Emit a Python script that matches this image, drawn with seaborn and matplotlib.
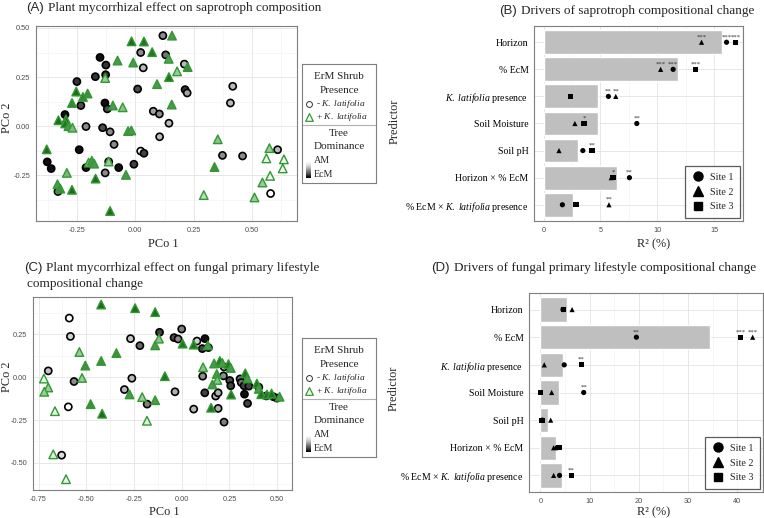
import numpy as np
import pandas as pd
import seaborn as sns
import matplotlib.pyplot as plt
from matplotlib.colors import LinearSegmentedColormap
from matplotlib.ticker import AutoMinorLocator
from matplotlib.lines import Line2D

# ---------------- data ----------------
# panel A: saprotroph PCoA, circles = without K. latifolia, triangles = with
# ecm = tree dominance shade, 0 = AM ... 1 = EcM
sap_no_pc1 = [0.118, 0.023, 0.13, 0.034, 0.21, -0.151, -0.126, -0.127, -0.171, -0.25,
              0.01, 0.213, 0.222, 0.417, 0.407, -0.13, -0.12, -0.233, 0.077, 0.103,
              -0.301, 0.144, -0.211, -0.14, -0.108, 0.104, -0.091, -0.24, 0.023, 0.037,
              -0.377, -0.36, -0.211, -0.114, -0.071, -0.006, -0.129, -0.331, 0.373, 0.459,
              0.609, 0.579]
sap_no_pc2 = [0.461, 0.375, 0.363, 0.297, 0.316, 0.35, 0.311, 0.262, 0.252, 0.227,
              0.189, 0.186, 0.169, 0.203, 0.118, 0.118, 0.088, 0.105, 0.076, 0.062,
              0.059, 0.015, -0.002, -0.008, -0.029, -0.054, -0.093, -0.12, -0.127, -0.138,
              -0.182, -0.216, -0.211, -0.181, -0.211, -0.194, -0.238, -0.333, -0.149, -0.152,
              -0.12, -0.343]
sap_no_ecm = [0.5, 0.5, 0.6, 0.3, 0.3, 1.0, 0.85, 0.85, 0.85, 0.85,
              0.75, 0.85, 0.4, 0.3, 0.3, 1.0, 0.75, 0.75, 0.4, 0.5,
              1.0, 0.3, 0.5, 0.75, 0.5, 0.3, 0.5, 1.0, 0.05, 0.8,
              1.0, 1.0, 1.0, 0.1, 1.0, 0.8, 0.5, 0.5, 0.5, 0.5,
              0.3, 0.0]
sap_yes_pc1 = [-0.016, 0.037, 0.157, 0.072, -0.076, -0.009, 0.143, 0.179, 0.224, -0.129,
               0.144, 0.093, -0.253, -0.204, -0.224, -0.271, 0.156, -0.096, -0.054, -0.329,
               -0.297, -0.30, -0.286, -0.269, -0.031, -0.017, 0.353, -0.379, -0.293, -0.2,
               -0.186, -0.176, -0.17, -0.04, -0.333, -0.321, -0.271, -0.108, -0.114, 0.339,
               0.293, 0.574, 0.561, 0.636, 0.631, 0.577, 0.544, 0.51]
sap_yes_pc2 = [0.432, 0.431, 0.461, 0.377, 0.334, 0.324, 0.343, 0.279, 0.301, 0.245,
               0.25, 0.214, 0.176, 0.166, 0.149, 0.118, 0.11, 0.105, 0.096, 0.03,
               0.034, 0.014, 0.0, -0.008, -0.025, -0.022, -0.067, -0.118, -0.238, -0.186,
               -0.176, -0.191, -0.267, -0.248, -0.296, -0.318, -0.324, -0.432, -0.18, -0.208,
               -0.351, -0.112, -0.164, -0.169, -0.215, -0.253, -0.287, -0.363]
sap_yes_ecm = [0.9, 0.85, 0.6, 0.85, 0.6, 0.6, 0.55, 0.3, 0.65, 0.3,
               0.85, 0.6, 0.9, 0.65, 0.7, 0.7, 0.6, 0.6, 0.35, 0.9,
               0.9, 0.85, 0.6, 0.4, 0.6, 0.6, 0.35, 0.9, 0.4, 0.35,
               0.6, 0.6, 0.9, 0.6, 0.6, 0.65, 0.9, 0.9, 0.3, 0.65,
               0.2, 0.3, 0.05, 0.05, 0.05, 0.05, 0.3, 0.3]

# panel C: primary lifestyle PCoA
life_no_pc1 = [-0.589, -0.583, -0.699, -0.564, -0.594, -0.629, -0.268, -0.219, -0.261, -0.30,
               -0.181, -0.116, 0.0, -0.04, -0.019, 0.08, 0.122, 0.108, 0.14, 0.11,
               0.222, 0.219, 0.252, 0.257, -0.035, 0.121, 0.178, 0.191, 0.063, 0.191,
               0.222, 0.306, 0.312, 0.327, 0.352, 0.329, 0.345, 0.404, 0.443, 0.499,
               0.481]
life_no_pc2 = [0.345, 0.238, 0.037, -0.025, -0.173, -0.455, 0.225, 0.184, -0.006, -0.072,
               -0.157, 0.262, 0.281, 0.231, 0.223, 0.211, 0.225, 0.167, 0.173, 0.006,
               0.06, 0.008, -0.019, -0.05, -0.085, -0.091, -0.11, -0.091, -0.186, -0.182,
               -0.262, -0.01, -0.031, -0.05, -0.052, -0.099, -0.153, -0.058, -0.109, -0.122,
               -0.114]
life_no_ecm = [0.0, 0.2, 0.25, 0.5, 0.0, 0.15, 0.25, 0.65, 0.3, 0.3,
               0.55, 0.8, 0.55, 0.75, 0.5, 0.2, 1.0, 0.8, 0.8, 0.5,
               0.3, 0.5, 0.75, 0.8, 0.35, 0.8, 0.35, 0.35, 0.3, 0.35,
               0.55, 0.6, 0.6, 0.8, 0.8, 1.0, 0.8, 0.6, 0.8, 1.0,
               0.8]
life_yes_pc1 = [-0.422, -0.244, -0.139, -0.536, -0.422, -0.342, -0.505, -0.522, -0.722, -0.699,
                -0.72, -0.664, -0.477, -0.417, -0.273, -0.207, -0.139, -0.182, -0.673, -0.606,
                -0.139, -0.119, 0.005, 0.063, 0.137, -0.088, 0.112, 0.17, 0.20, 0.213,
                0.245, 0.257, 0.184, 0.187, 0.161, 0.154, 0.259, 0.333, 0.345, 0.394,
                0.404, 0.417, 0.447, 0.471, 0.513]
life_yes_pc2 = [0.424, 0.403, 0.38, 0.147, 0.095, 0.141, 0.068, -0.004, -0.008, -0.06,
                -0.085, -0.198, -0.157, -0.213, -0.10, -0.116, -0.134, -0.254, -0.45, -0.595,
                0.186, 0.225, 0.196, 0.19, 0.186, 0.006, 0.058, 0.08, 0.095, 0.083,
                0.076, 0.054, 0.019, -0.016, -0.042, -0.178, -0.101, 0.023, -0.008, -0.037,
                -0.068, -0.099, -0.101, -0.095, -0.114]
life_yes_ecm = [0.9, 0.9, 0.9, 0.3, 0.65, 0.65, 0.65, 0.3, 0.05, 0.3,
                0.3, 0.05, 0.65, 0.9, 0.6, 0.3, 0.6, 0.1, 0.1, 0.05,
                0.6, 0.35, 0.85, 0.85, 0.6, 0.85, 0.35, 0.6, 0.85, 0.6,
                0.85, 0.6, 0.6, 0.35, 0.6, 0.85, 0.85, 0.85, 0.6, 0.85,
                0.6, 0.85, 0.85, 0.85, 0.6]

# panels B and D: variance partitioning (R2 %)
predictors = ["Horizon", "% EcM", "K. latifolia presence", "Soil Moisture", "Soil pH",
              "Horizon × % EcM", "% EcM × K. latifolia presence"]
predictor_labels = ["Horizon", "% EcM", r"$\it{K.\ latifolia}$ presence ", "Soil Moisture",
                    "Soil pH", "Horizon × % EcM", r"% EcM × $\it{K.\ latifolia}$ presence"]
sites = ["Site 1", "Site 2", "Site 3"]

sap_r2_all = [15.7, 11.8, 4.8, 4.8, 3.05, 6.5, 2.6]
sap_r2_site1 = [16.1, 11.4, 5.7, 8.2, 3.45, 7.55, 1.65]
sap_r2_site2 = [13.9, 10.3, 6.35, 2.75, 1.35, 5.95, 5.75]
sap_r2_site3 = [16.9, 13.4, 2.35, 3.55, 4.25, 6.1, 2.85]
sap_sig_site1 = ["***", "***", "**", "**", "", "**", ""]
sap_sig_site2 = ["***", "***", "**", "", "", "", "**"]
sap_sig_site3 = ["***", "***", "", "*", "**", "*", ""]

life_r2_all = [5.4, 34.5, 4.7, 3.7, 1.5, 3.15, 4.35]
life_r2_site1 = [4.6, 19.5, 4.85, 8.8, 0.4, 3.4, 3.9]
life_r2_site2 = [6.45, 43.1, 0.8, 2.3, 2.1, 2.7, 2.7]
life_r2_site3 = [4.75, 40.7, 8.3, 0.0, 0.35, 3.8, 6.3]
life_sig_site1 = ["", "**", "", "**", "", "", ""]
life_sig_site2 = ["", "***", "", "", "", "", ""]
life_sig_site3 = ["", "***", "**", "", "", "", "**"]

# ---------------- style ----------------
sns.set_style("white")
plt.rcParams['font.family'] = ['Liberation Serif', 'DejaVu Serif']
plt.rcParams['mathtext.fontset'] = 'custom'
plt.rcParams['mathtext.rm'] = 'Liberation Serif'
plt.rcParams['mathtext.it'] = 'Liberation Serif:italic'

W, H = 764, 518
fig = plt.figure(figsize=(W / 100, H / 100), dpi=100)


def px_axes(l, t, r, b):
    return fig.add_axes([l / W, 1 - b / H, (r - l) / W, (b - t) / H])


def ftext(x, y, s, **kw):
    fig.text(x / W, 1 - y / H, s, **kw)


gray_map = LinearSegmentedColormap.from_list("am_ecm", ["#ffffff", "#8c8c8c", "#101010"])
green_map = LinearSegmentedColormap.from_list("am_ecm_g", ["#ffffff", "#8fc48f", "#3f8a3f", "#145c14"])
green_edge = "#2f9a2f"
border = "#7f7f7f"
tick_fs = 5.3


def style_frame(ax):
    for sp in ax.spines.values():
        sp.set_color(border)
        sp.set_linewidth(0.8)
    ax.tick_params(axis='both', length=2, width=0.5, color='#555555', pad=2)
    for lab in ax.get_xticklabels() + ax.get_yticklabels():
        lab.set_family('Liberation Sans')
    ax.set_axisbelow(True)


def pcoa_panel(ax, x0, y0, e0, x1, y1, e1, xlim, ylim, xticks, yticks):
    d0 = pd.DataFrame({'PCo1': x0, 'PCo2': y0, 'ecm': e0})
    d1 = pd.DataFrame({'PCo1': x1, 'PCo2': y1, 'ecm': e1})
    sns.scatterplot(data=d0, x='PCo1', y='PCo2', hue='ecm', palette=gray_map, hue_norm=(0, 1),
                    marker='o', s=26, edgecolor='black', linewidth=1.2, legend=False, ax=ax, zorder=3)
    sns.scatterplot(data=d1, x='PCo1', y='PCo2', hue='ecm', palette=green_map, hue_norm=(0, 1),
                    marker='^', s=38, edgecolor=green_edge, linewidth=1.0, legend=False, ax=ax, zorder=3)
    ax.set_xlim(*xlim)
    ax.set_ylim(*ylim)
    ax.set_xticks(xticks)
    ax.set_yticks(yticks)
    ax.set_xticklabels([f"{t:.2f}" for t in xticks], fontsize=tick_fs, color='#4d4d4d')
    ax.set_yticklabels([f"{t:.2f}" for t in yticks], fontsize=tick_fs, color='#4d4d4d')
    ax.xaxis.set_minor_locator(AutoMinorLocator(2))
    ax.yaxis.set_minor_locator(AutoMinorLocator(2))
    ax.tick_params(which='minor', length=0)
    ax.grid(True, which='major', color='#e3e3e3', lw=0.6)
    ax.grid(True, which='minor', color='#f1f1f1', lw=0.4)
    ax.set_xlabel("")
    ax.set_ylabel("")
    style_frame(ax)


def shrub_legend(l, t):
    lax = px_axes(l, t, l + 74, t + 119)
    lax.set_xticks([])
    lax.set_yticks([])
    for sp in lax.spines.values():
        sp.set_color(border)
        sp.set_linewidth(0.8)
    lax.text(0.5, 0.895, "ErM Shrub", ha='center', va='center', fontsize=8)
    lax.text(0.5, 0.78, "Presence", ha='center', va='center', fontsize=8)
    lax.scatter([0.1], [0.662], s=18, marker='o', facecolor='white', edgecolor='#333333', linewidth=0.7)
    lax.text(0.19, 0.662, r"- $\it{K.\ latifolia}$", ha='left', va='center', fontsize=6.8)
    lax.scatter([0.1], [0.552], s=30, marker='^', facecolor='white', edgecolor=green_edge, linewidth=0.9)
    lax.text(0.19, 0.552, r"+ $\it{K.\ latifolia}$", ha='left', va='center', fontsize=6.8)
    lax.axhline(0.49, color='#b0b0b0', lw=0.8)
    lax.text(0.5, 0.42, "Tree", ha='center', va='center', fontsize=8)
    lax.text(0.5, 0.305, "Dominance", ha='center', va='center', fontsize=8)
    grad = np.linspace(0, 1, 50).reshape(-1, 1)
    lax.imshow(grad, cmap='Greys', extent=(0.06, 0.12, 0.04, 0.17), aspect='auto', vmin=-0.05, vmax=1.0)
    lax.text(0.16, 0.185, "AM", ha='left', va='center', fontsize=7.2)
    lax.text(0.16, 0.075, "EcM", ha='left', va='center', fontsize=7.2)
    lax.set_xlim(0, 1)
    lax.set_ylim(0, 1)


def r2_panel(ax, total, r1, r2, r3, g1, g2, g3, xlim, xticks):
    bars = pd.DataFrame({'Predictor': predictors, 'R2': total})
    sns.barplot(data=bars, y='Predictor', x='R2', color='#bfbfbf', saturation=1, width=0.88,
                order=predictors, ax=ax, zorder=2)
    pts = pd.DataFrame({
        'Predictor': predictors * 3,
        'pos': [predictors.index(p) for p in predictors] * 3,
        'R2': r1 + r2 + r3,
        'Site': [s for s in sites for _ in predictors],
        'sig': g1 + g2 + g3,
    })
    sns.scatterplot(data=pts, x='R2', y='pos', style='Site', style_order=sites,
                    markers={'Site 1': 'o', 'Site 2': '^', 'Site 3': 's'},
                    color='black', s=14, edgecolor='none', legend=False, ax=ax, zorder=3)
    for _, row in pts.iterrows():
        if row['sig']:
            ax.text(row['R2'], row['pos'] - 0.2, row['sig'], ha='center', va='center',
                    fontsize=4.9, color='#333333', zorder=4)
    ax.set_xlim(*xlim)
    ax.set_ylim(6.6, -0.6)
    ax.set_xticks(xticks)
    ax.set_xticklabels([str(t) for t in xticks], fontsize=tick_fs, color='#4d4d4d')
    ax.set_yticks(range(len(predictors)))
    ax.set_yticklabels(predictor_labels, fontsize=7.1, color='black')
    ax.xaxis.set_minor_locator(AutoMinorLocator(2))
    ax.tick_params(which='minor', length=0)
    ax.grid(True, which='major', color='#e3e3e3', lw=0.6)
    ax.grid(True, which='minor', axis='x', color='#f1f1f1', lw=0.4)
    ax.set_xlabel("")
    ax.set_ylabel("")
    style_frame(ax)
    for lab in ax.get_yticklabels():
        lab.set_family('Liberation Serif')
    handles = [Line2D([], [], marker=m, ls='', color='black', markersize=ms)
               for m, ms in zip(['o', '^', 's'], [6.5, 6.8, 6.0])]
    leg = ax.legend(handles, sites, loc='lower right', frameon=True, fancybox=False,
                    fontsize=7.3, borderaxespad=0.25, labelspacing=0.55, handletextpad=0.6,
                    borderpad=0.7, handlelength=1.2)
    leg.get_frame().set_edgecolor('#333333')
    leg.get_frame().set_linewidth(0.9)


# ---------------- panel A ----------------
axA = px_axes(36, 26, 297, 221)
pcoa_panel(axA, sap_no_pc1, sap_no_pc2, sap_no_ecm, sap_yes_pc1, sap_yes_pc2, sap_yes_ecm,
           (-0.425, 0.692), (-0.483, 0.51), [-0.25, 0.0, 0.25, 0.5], [-0.25, 0.0, 0.25, 0.5])
shrub_legend(302, 64)

# ---------------- panel C ----------------
axC = px_axes(33, 297, 292, 490)
pcoa_panel(axC, life_no_pc1, life_no_pc2, life_no_ecm, life_yes_pc1, life_yes_pc2, life_yes_ecm,
           (-0.779, 0.578), (-0.658, 0.468), [-0.75, -0.5, -0.25, 0.0, 0.25, 0.5], [-0.5, -0.25, 0.0, 0.25])
shrub_legend(302, 338)

# ---------------- panel B ----------------
axB = px_axes(534, 26, 743, 221)
r2_panel(axB, sap_r2_all, sap_r2_site1, sap_r2_site2, sap_r2_site3,
         sap_sig_site1, sap_sig_site2, sap_sig_site3, (-0.85, 17.55), [0, 5, 10, 15])

# ---------------- panel D ----------------
axD = px_axes(529, 293, 763, 492)
r2_panel(axD, life_r2_all, life_r2_site1, life_r2_site2, life_r2_site3,
         life_sig_site1, life_sig_site2, life_sig_site3, (-2.3, 45.2), [0, 10, 20, 30, 40])

# ---------------- titles and axis labels ----------------
ttl = 9.5
ftext(26, 8, "(A)", fontsize=ttl, family='Liberation Sans', va='center')
ftext(48, 8, "Plant mycorrhizal effect on saprotroph composition", fontsize=ttl, va='center')
ftext(499, 11, "(B)", fontsize=ttl, family='Liberation Sans', va='center')
ftext(521, 11, "Drivers of saprotroph compositional change", fontsize=ttl, va='center')
ftext(24, 268, "(C)", fontsize=ttl, family='Liberation Sans', va='center')
ftext(46, 268, "Plant mycorrhizal effect on fungal primary lifestyle", fontsize=ttl, va='center')
ftext(27, 284, "compositional change", fontsize=ttl, va='center')
ftext(431, 268, "(D)", fontsize=ttl, family='Liberation Sans', va='center')
ftext(454, 268, "Drivers of fungal primary lifestyle compositional change", fontsize=ttl, va='center')

lab = 8.8
ftext(163, 244, "PCo 1", fontsize=lab, ha='center', va='center')
ftext(7, 118, "PCo 2", fontsize=lab, ha='center', va='center', rotation=90)
ftext(164, 512, "PCo 1", fontsize=lab, ha='center', va='center')
ftext(7, 377, "PCo 2", fontsize=lab, ha='center', va='center', rotation=90)
ftext(654, 244, "R² (%)", fontsize=lab, ha='center', va='center')
ftext(395, 121, "Predictor", fontsize=lab, ha='center', va='center', rotation=90)
ftext(654, 512, "R² (%)", fontsize=lab, ha='center', va='center')
ftext(394, 388, "Predictor", fontsize=lab, ha='center', va='center', rotation=90)

fig.savefig("out.png", dpi=100, facecolor='white')
